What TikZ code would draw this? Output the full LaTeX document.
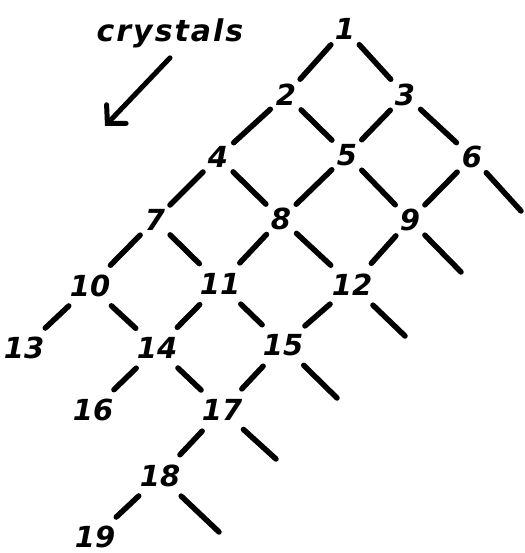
\documentclass[tikz,border=0pt]{standalone}
\usepackage{fontspec}
\setmainfont{DejaVu Sans}
\usetikzlibrary{arrows.meta}

\begin{document}
\begin{tikzpicture}[x=1pt, y=-1pt,
    num/.style={circle, inner sep=0pt, minimum size=30pt,
                font=\fontsize{29}{32}\selectfont\bfseries\itshape},
    edge/.style={line width=5.5pt, line cap=round, shorten <=6pt, shorten >=6pt},
    stub/.style={line width=5.5pt, line cap=round, shorten <=6pt}]
  \useasboundingbox (0,0) rectangle (524,553);
  % label and arrow
  \node[font=\fontsize{30}{32}\selectfont\bfseries\itshape,
        inner sep=1pt] (lbl) at (170,33)
    {c\kern2pt r\kern2pt y\kern2pt s\kern2pt t\kern2pt a\kern2pt l\kern2pt s};
  \coordinate (tail) at ([yshift=-9pt]lbl.south);
  \coordinate (tip) at (105,126);
  \draw[line width=5pt, line cap=round,
        -{Straight Barb[length=13pt, width=27pt, line cap=round]}] (tail) -- (tip);
  % numbered nodes
  \node[num] (n1)  at (345,29)  {1};
  \node[num] (n2)  at (286,95)  {2};
  \node[num] (n3)  at (405,95)  {3};
  \node[num] (n4)  at (218,157) {4};
  \node[num] (n5)  at (347,155) {5};
  \node[num] (n6)  at (472,157) {6};
  \node[num] (n7)  at (155,220) {7};
  \node[num] (n8)  at (281,219) {8};
  \node[num] (n9)  at (410,220) {9};
  \node[num] (n10) at (90,286)  {10};
  \node[num] (n11) at (220,284) {11};
  \node[num] (n12) at (352,285) {12};
  \node[num] (n13) at (24,348)  {13};
  \node[num] (n14) at (157,348) {14};
  \node[num] (n15) at (283,345) {15};
  \node[num] (n16) at (93,410)  {16};
  \node[num] (n17) at (222,410) {17};
  \node[num] (n18) at (160,476) {18};
  \node[num] (n19) at (95,537)  {19};
  % free ends
  \coordinate (e6)  at (521,211);
  \coordinate (e9)  at (461,272);
  \coordinate (e12) at (405,336);
  \coordinate (e15) at (337,398);
  \coordinate (e17) at (276,459);
  \coordinate (e18) at (219,532);
  % links
  \foreach \a/\b in {1/2, 1/3, 2/4, 2/5, 3/5, 3/6, 4/7, 4/8, 5/8, 5/9, 6/9,
                     7/10, 7/11, 8/11, 8/12, 9/12, 10/13, 10/14, 11/14, 11/15,
                     12/15, 14/16, 14/17, 15/17, 17/18, 18/19}
    \draw[edge] (n\a) -- (n\b);
  \foreach \a in {6, 9, 12, 15, 17, 18}
    \draw[stub] (n\a) -- (e\a);
\end{tikzpicture}
\end{document}
